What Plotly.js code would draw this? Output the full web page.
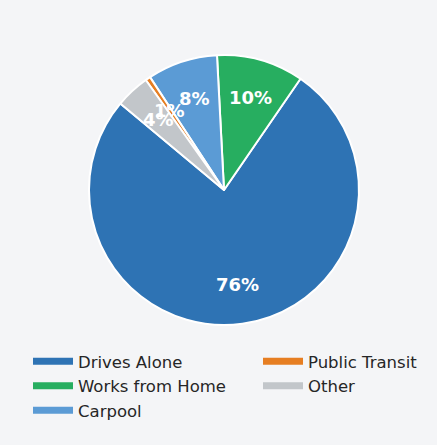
<!DOCTYPE html>
<html>
<head>
<meta charset="utf-8">
<script src="https://cdn.plot.ly/plotly-3.0.1.min.js"></script>
<style>
  html, body { margin: 0; padding: 0; background: #f4f5f7; }
  #chart { width: 437px; height: 445px; }
</style>
</head>
<body>
<div id="chart"></div>
<script>
// Data
const categories = ["Drives Alone", "Works from Home", "Carpool", "Public Transit", "Other"];
const shares = [76.4, 10.4, 8.4, 0.6, 4.1];
const colors = ["#2E73B4", "#27AE60", "#5B9BD5", "#E67E22", "#C2C6CA"];
// legend columns as in the original
const legendCol1 = ["Drives Alone", "Works from Home", "Carpool"];
const legendCol2 = ["Public Transit", "Other"];
const labelDistance = 0.71; // percent labels sit at this fraction of the radius

const pie = {
  type: "pie",
  labels: categories,
  values: shares,
  sort: false,
  direction: "counterclockwise",
  rotation: 34.5,
  marker: { colors: colors, line: { color: "#ffffff", width: 2 } },
  textinfo: "none",
  hoverinfo: "label+percent",
  showlegend: false,
  domain: { x: [0, 1], y: [0, 1] }
};

function legendTrace(name, legendId, rank) {
  return {
    type: "scatter",
    mode: "lines",
    x: [null],
    y: [null],
    name: name,
    legend: legendId,
    legendrank: rank,
    line: { color: colors[categories.indexOf(name)], width: 7 },
    hoverinfo: "skip"
  };
}
const legendTraces = legendCol1.map((n, i) => legendTrace(n, "legend", i + 1))
  .concat(legendCol2.map((n, i) => legendTrace(n, "legend2", i + 1)));

const legendFont = { family: "DejaVu Sans", size: 16.5, color: "#262626" };
const layout = {
  width: 437,
  height: 445,
  paper_bgcolor: "#f4f5f7",
  plot_bgcolor: "rgba(0,0,0,0)",
  margin: { l: 11, r: 0, t: 55, b: 120, autoexpand: false },
  xaxis: { visible: false },
  yaxis: { visible: false },
  font: { family: "DejaVu Sans", color: "#262626" },
  showlegend: true,
  legend: {
    orientation: "v",
    xref: "container", yref: "container",
    x: 28 / 437, y: 1 - 344 / 445,
    xanchor: "left", yanchor: "top",
    itemwidth: 40,
    font: legendFont,
    bgcolor: "rgba(0,0,0,0)",
    traceorder: "normal"
  },
  legend2: {
    orientation: "v",
    xref: "container", yref: "container",
    x: 258 / 437, y: 1 - 344 / 445,
    xanchor: "left", yanchor: "top",
    itemwidth: 40,
    font: legendFont,
    bgcolor: "rgba(0,0,0,0)",
    traceorder: "normal"
  }
};

Plotly.newPlot("chart", [pie].concat(legendTraces), layout, { displayModeBar: false, staticPlot: true })
  .then(function (gd) {
    // place percentage labels along each slice's mid-angle, using the pie geometry Plotly computed
    const cd = gd.calcdata[0];
    const cd0 = cd[0];
    const sz = gd._fullLayout._size;
    const total = shares.reduce((a, b) => a + b, 0);
    const annotations = cd.map(function (pt, i) {
      const px = cd0.cx + labelDistance * pt.pxmid[0];
      const py = cd0.cy + labelDistance * pt.pxmid[1];
      return {
        xref: "paper", yref: "paper",
        x: (px - sz.l) / sz.w,
        y: 1 - (py - sz.t) / sz.h,
        xanchor: "center", yanchor: "middle",
        showarrow: false,
        text: Math.round(pt.v / total * 100) + "%",
        font: { family: "DejaVu Sans", size: 18, color: "#ffffff", weight: "bold" }
      };
    });
    return Plotly.relayout(gd, { annotations: annotations });
  });
</script>
</body>
</html>
